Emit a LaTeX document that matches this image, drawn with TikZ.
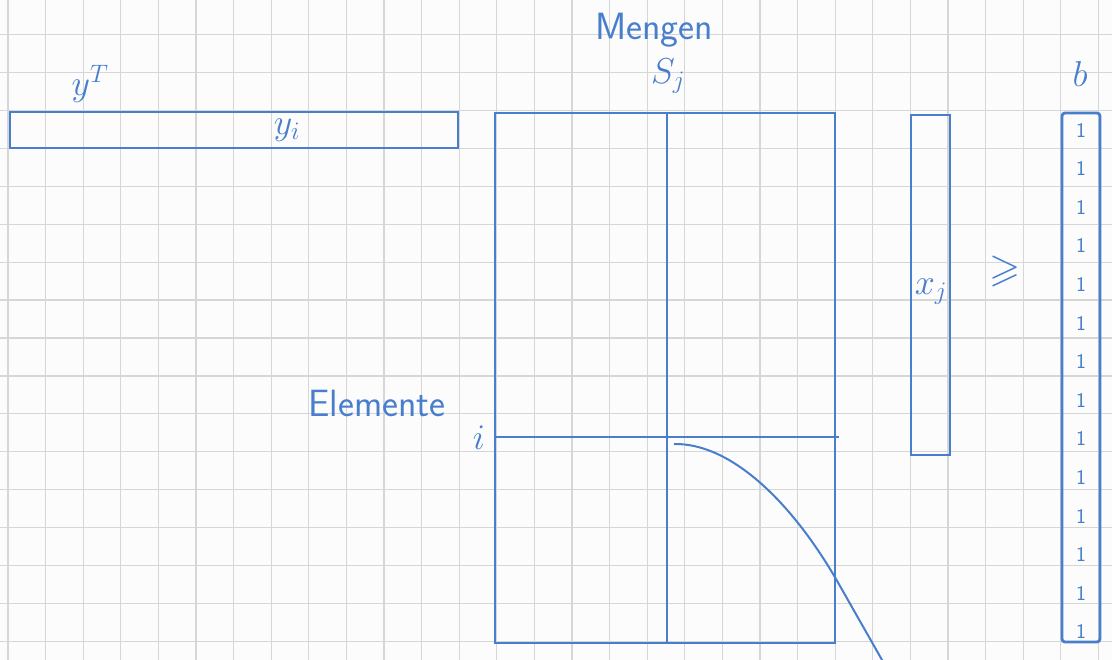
\RequirePackage{fix-cm}
\documentclass[tikz,border=0pt]{standalone}
\usepackage{amssymb}
\usetikzlibrary{positioning, calc}
\definecolor{pen}{RGB}{72,126,204}
\definecolor{paper}{RGB}{252,252,252}
\definecolor{gridline}{RGB}{214,214,214}

\begin{document}
\begin{tikzpicture}[
    x=1pt, y=-1pt,
    box/.style={rectangle, draw=pen, line width=2.8pt, inner sep=0pt},
    pencil/.style={draw=pen, line width=2pt},
    paperline/.style={draw=gridline, line width=1.3pt},
    word/.style={text=pen, inner sep=0pt, font=\fontsize{38}{40}\selectfont\sffamily},
    symb/.style={text=pen, inner sep=0pt, font=\fontsize{36}{38}\selectfont},
    one/.style={text=pen, inner sep=0pt, font=\fontsize{21}{23}\selectfont\sffamily}
  ]

    % Paper and grid
    \clip (0,0) rectangle (1112,660);
    \fill[paper] (0,0) rectangle (1112,660);
    \foreach \k in {0,...,29}
      \draw[paperline] ({8+37.6*\k},0) -- ++(0,660);
    \foreach \k in {1,...,17}
      \draw[paperline] (0,{-3.1+37.9*\k}) -- ++(1112,0);

    % Row vector y^T
    \node[box, minimum width=448, minimum height=36] (yrow) at (234,130) {};
    \node[symb] (ylabel) at (90,84) {$y^T$};
    \node[symb] (yi) at (287,130) {$y_i$};

    % Matrix (Elemente x Mengen)
    \node[box, minimum width=340, minimum height=530] (mat) at (665,378) {};
    \node[word] (mengen) at (654,30) {Mengen};
    \node[symb] (sj) at (668,76) {$S_j$};
    \node[word] (elemente) at (377,403) {Elemente};
    \node[symb] (ilabel) at (479,438) {$i$};

    % Column j and row i
    \coordinate (colj) at (667,0);
    \coordinate (rowi) at (0,437);
    \draw[pencil] (mat.north -| colj) -- (mat.south -| colj);
    \draw[pencil] (mat.west |- rowi) -- ($(mat.east |- rowi)+(3,0)$);

    % Curve leaving the matrix
    \coordinate (cstart) at (674,444);
    \coordinate (cbend) at (836,579);
    \coordinate (cend) at (890,674);
    \draw[pencil] (cstart) .. controls (730,443) and (790,500) .. (cbend) -- (cend);

    % Column vector x
    \node[box, minimum width=39, minimum height=340] (xcol) at (930.5,285) {};
    \node[symb] (xj) at (931,292) {$x_j$};

    % Relation
    \node[symb, font=\fontsize{40}{42}\selectfont] (geq) at (1005,272) {$\geqslant$};

    % Right-hand side b
    \node[box, rounded corners=3pt, minimum width=38, minimum height=529] (bcol) at (1081,377.5) {};
    \node[symb] (blabel) at (1080,74) {$b$};
    \foreach \k in {0,...,13}
      \node[one] (one\k) at (1081,{130+38.6*\k}) {1};

  \end{tikzpicture}
\end{document}
